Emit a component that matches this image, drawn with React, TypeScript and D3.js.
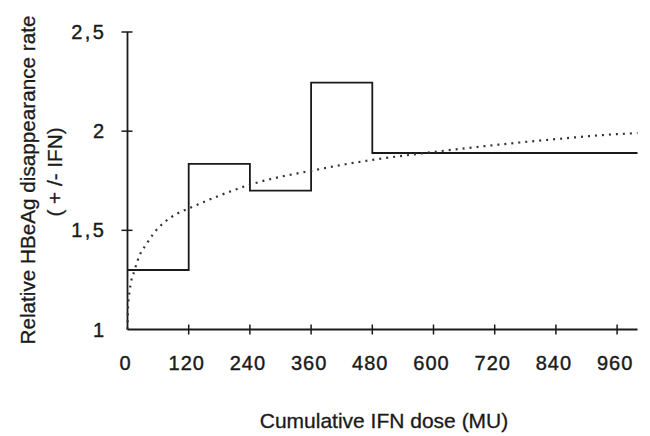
import React from 'react';
import { scaleLinear, line, curveStepAfter, curveMonotoneX } from 'd3';

// step series: relative rate per dose interval (last point closes the final step)
const stepDoses = [0, 120, 240, 360, 480, 1000];
const stepRates = [1.30, 1.835, 1.70, 2.245, 1.89, 1.89];

// dotted fitted curve
const curveDoses = [0, 1, 4.5, 14, 24, 37, 53, 72, 98, 120, 180, 240, 300, 360, 420, 480, 600, 720, 840, 960, 1000];
const curveRates = [1.0, 1.11, 1.2, 1.3, 1.375, 1.43, 1.49, 1.54, 1.585, 1.61, 1.675, 1.73, 1.77, 1.80, 1.83, 1.855, 1.895, 1.93, 1.96, 1.985, 1.99];

const xTicks = [0, 120, 240, 360, 480, 600, 720, 840, 960];
const yTicks = [1, 1.5, 2, 2.5];
const yTickLabels = ['1', '1,5', '2', '2,5'];

const font = '"Liberation Sans", Arial, Helvetica, sans-serif';
const ink = '#1a1a1a';

const App = () => {
  const width = 650;
  const height = 436;
  const margin = { top: 32, right: 12.5, bottom: 106.5, left: 127.5 };

  const xScale = scaleLinear()
    .domain([0, 1000])
    .range([margin.left, width - margin.right]);
  const yScale = scaleLinear()
    .domain([1, 2.5])
    .range([height - margin.bottom, margin.top]);

  const stepPath = line<number>()
    .x((d, i) => xScale(stepDoses[i]))
    .y(d => yScale(d))
    .curve(curveStepAfter)(stepRates);

  const curvePath = line<number>()
    .x((d, i) => xScale(curveDoses[i]))
    .y(d => yScale(d))
    .curve(curveMonotoneX)(curveRates);

  const x0 = xScale(0);
  const y0 = yScale(1);

  const labelStyle = { fontSize: '20px', fontFamily: font };

  return (
    <svg
      width={width}
      height={height}
      style={{ position: 'absolute', left: 0, top: 0, background: '#fff' }}
    >
      {/* axes */}
      <path d={`M ${x0} ${y0} H ${xScale(1000)}`} stroke={ink} strokeWidth={1.8} fill="none" />
      <path d={`M ${x0} ${y0} V ${yScale(2.5)}`} stroke={ink} strokeWidth={1.8} fill="none" />

      {xTicks.map(value => (
        <g key={value} transform={`translate(${xScale(value)}, ${y0})`}>
          {value > 0 && <line y1={-5} y2={5} stroke={ink} strokeWidth={1.5} />}
          <text
            x={-2}
            y={40.5}
            textAnchor="middle"
            style={{ ...labelStyle, letterSpacing: '1px' }}
            fill={ink}
            stroke={ink}
            strokeWidth={0.4}
          >
            {value}
          </text>
        </g>
      ))}

      {yTicks.map((value, i) => (
        <g key={value} transform={`translate(${x0}, ${yScale(value)})`}>
          {value > 1 && <line x1={-6} x2={5} stroke={ink} strokeWidth={1.5} />}
          <text
            x={-21}
            y={7}
            textAnchor="end"
            style={{ ...labelStyle, letterSpacing: '2.5px' }}
            fill={ink}
            stroke={ink}
            strokeWidth={0.4}
          >
            {yTickLabels[i]}
          </text>
        </g>
      ))}

      {/* series */}
      <path d={stepPath || ''} stroke={ink} strokeWidth={1.8} fill="none" />
      <path
        d={curvePath || ''}
        stroke="#333"
        strokeWidth={2.2}
        strokeDasharray="2,5"
        fill="none"
      />

      {/* axis titles */}
      <text
        x={384}
        y={428}
        textAnchor="middle"
        style={{ fontSize: '21px', fontFamily: font }}
        fill={ink}
        stroke={ink}
        strokeWidth={0.3}
      >
        Cumulative IFN dose (MU)
      </text>
      <g transform="translate(35, 180) rotate(-90)">
        <text
          textAnchor="middle"
          style={{ fontSize: '20.7px', fontFamily: font }}
          fill={ink}
          stroke={ink}
          strokeWidth={0.3}
        >
          Relative HBeAg disappearance rate
        </text>
      </g>
      <g transform="translate(62, 172) rotate(-90)">
        <text
          textAnchor="middle"
          style={{ fontSize: '20.7px', fontFamily: font }}
          fill={ink}
          stroke={ink}
          strokeWidth={0.3}
        >
          ( + /- IFN)
        </text>
      </g>
    </svg>
  );
};

export default App;
